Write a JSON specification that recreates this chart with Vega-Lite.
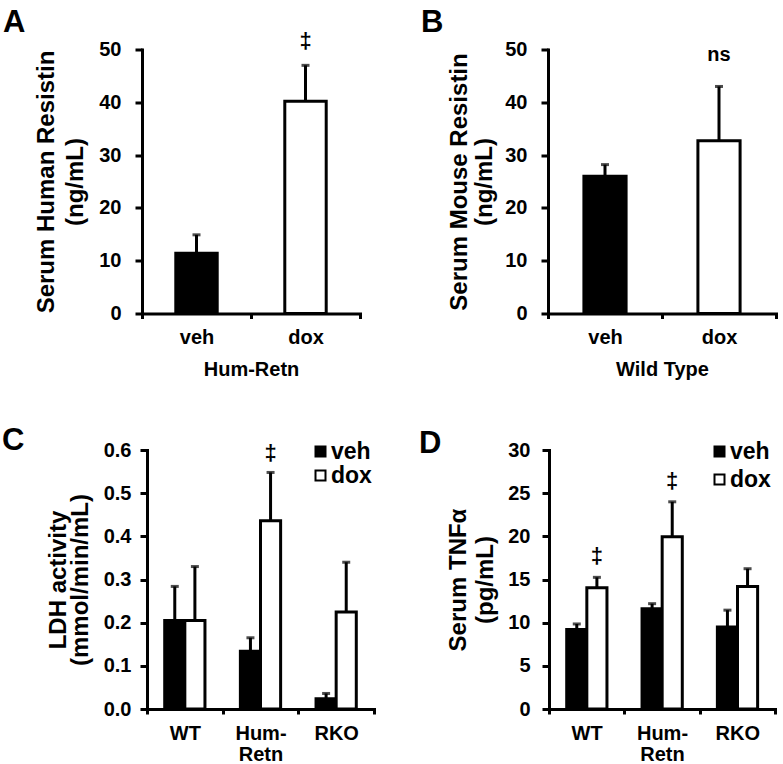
{
  "$schema": "https://vega.github.io/schema/vega-lite/v6.json",
  "padding": {"left": 2, "top": 6.5, "right": 5, "bottom": 0},
  "background": "white",
  "config": {
    "font": "Liberation Sans",
    "view": {"stroke": null},
    "axis": {
      "domainColor": "black", "domainWidth": 3, "domainCap": "square",
      "tickColor": "black", "tickWidth": 3,
      "labelColor": "black", "labelFontWeight": "bold", "labelFontSize": 20,
      "titleColor": "black", "titleFontWeight": "bold", "titleFontSize": 20,
      "grid": false
    },
    "axisX": {"tickSize": 5, "labelAngle": 0, "labelPadding": 9, "titlePadding": 12, "tickBand": "extent"},
    "axisY": {"tickSize": 7, "titleFontSize": 24, "labelFlush": false},
    "legend": {
      "symbolType": "square", "symbolSize": 100, "symbolStrokeColor": "black", "symbolStrokeWidth": 2,
      "labelFontSize": 23, "labelFontWeight": "bold", "labelColor": "black", "labelOffset": -1,
      "padding": 0, "orient": "none"
    }
  },
  "spacing": 45.5,
  "resolve": {"scale": {"fill": "independent"}, "legend": {"fill": "independent"}},
  "vconcat": [
    {
      "bounds": "flush",
      "spacing": 188,
      "resolve": {"scale": {"fill": "independent"}, "legend": {"fill": "independent"}},
      "hconcat": [
        {
          "width": 218, "height": 264,
          "title": {"text": "A", "anchor": "start", "frame": "group", "dx": -139, "dy": 33, "offset": 0, "baseline": "alphabetic", "fontSize": 31, "fontWeight": "bold", "color": "black"},
          "data": {"values": [
            {"treatment": "veh", "mean": 11.4, "upper": 14.9, "sig": ""},
            {"treatment": "dox", "mean": 40.2, "upper": 47.0, "sig": "‡"}
          ]},
          "encoding": {"x": {"field": "treatment", "type": "nominal", "sort": ["veh", "dox"], "scale": {"paddingInner": 0, "paddingOuter": 0}, "axis": {"title": "Hum-Retn"}}},
          "layer": [
            {"mark": {"type": "bar", "stroke": "black", "strokeWidth": 3, "width": {"band": 0.38}},
             "encoding": {
               "y": {"field": "mean", "type": "quantitative", "scale": {"domain": [0, 50]}, "axis": {"values": [0, 10, 20, 30, 40, 50], "title": ["Serum Human Resistin", "(ng/mL)"], "labelPadding": 14, "titlePadding": 11, "titleLineHeight": 29}},
               "fill": {"field": "treatment", "type": "nominal", "scale": {"domain": ["veh", "dox"], "range": ["black", "white"]}, "legend": null}
             }},
            {"mark": {"type": "rule", "strokeWidth": 3, "color": "black"}, "encoding": {"y": {"field": "mean", "type": "quantitative"}, "y2": {"field": "upper"}}},
            {"mark": {"type": "tick", "thickness": 3, "size": 8, "color": "black", "orient": "horizontal"}, "encoding": {"y": {"field": "upper", "type": "quantitative"}}},
            {"mark": {"type": "text", "fontSize": 22, "fontWeight": "bold", "dy": -24, "baseline": "middle", "color": "black"}, "encoding": {"y": {"field": "upper", "type": "quantitative"}, "text": {"field": "sig"}}}
          ]
        },
        {
          "width": 228, "height": 264,
          "title": {"text": "B", "anchor": "start", "frame": "group", "dx": -127, "dy": 23, "offset": 0, "baseline": "alphabetic", "fontSize": 31, "fontWeight": "bold", "color": "black"},
          "data": {"values": [
            {"treatment": "veh", "mean": 26.0, "upper": 28.2, "sig": ""},
            {"treatment": "dox", "mean": 32.7, "upper": 43.0, "sig": "ns"}
          ]},
          "encoding": {"x": {"field": "treatment", "type": "nominal", "sort": ["veh", "dox"], "scale": {"paddingInner": 0, "paddingOuter": 0}, "axis": {"title": "Wild Type"}}},
          "layer": [
            {"mark": {"type": "bar", "stroke": "black", "strokeWidth": 3, "width": {"band": 0.37}},
             "encoding": {
               "y": {"field": "mean", "type": "quantitative", "scale": {"domain": [0, 50]}, "axis": {"values": [0, 10, 20, 30, 40, 50], "title": ["Serum Mouse Resistin", "(ng/mL)"], "labelPadding": 14, "titlePadding": 8, "titleLineHeight": 25}},
               "fill": {"field": "treatment", "type": "nominal", "scale": {"domain": ["veh", "dox"], "range": ["black", "white"]}, "legend": null}
             }},
            {"mark": {"type": "rule", "strokeWidth": 3, "color": "black"}, "encoding": {"y": {"field": "mean", "type": "quantitative"}, "y2": {"field": "upper"}}},
            {"mark": {"type": "tick", "thickness": 3, "size": 8, "color": "black", "orient": "horizontal"}, "encoding": {"y": {"field": "upper", "type": "quantitative"}}},
            {"mark": {"type": "text", "fontSize": 20, "fontWeight": "bold", "dy": -31, "baseline": "middle", "color": "black"}, "encoding": {"y": {"field": "upper", "type": "quantitative"}, "text": {"field": "sig"}}}
          ]
        }
      ]
    },
    {
      "bounds": "flush",
      "spacing": 4,
      "resolve": {"scale": {"fill": "independent"}, "legend": {"fill": "independent"}},
      "hconcat": [
        {"width": 1, "height": 10, "data": {"values": []}, "mark": {"type": "point", "opacity": 0}},
        {
          "bounds": "flush",
          "spacing": 175,
          "resolve": {"scale": {"fill": "independent"}, "legend": {"fill": "independent"}},
          "hconcat": [
            {
              "width": 227, "height": 259,
              "title": {"text": "C", "anchor": "start", "frame": "group", "dx": -145, "dy": 41, "offset": 0, "baseline": "alphabetic", "fontSize": 31, "fontWeight": "bold", "color": "black"},
              "data": {"values": [
                {"genotype": "WT", "treatment": "veh", "mean": 0.205, "upper": 0.284, "sig": ""},
                {"genotype": "WT", "treatment": "dox", "mean": 0.205, "upper": 0.330, "sig": ""},
                {"genotype": "Hum-Retn", "treatment": "veh", "mean": 0.134, "upper": 0.165, "sig": ""},
                {"genotype": "Hum-Retn", "treatment": "dox", "mean": 0.436, "upper": 0.548, "sig": "‡"},
                {"genotype": "RKO", "treatment": "veh", "mean": 0.024, "upper": 0.036, "sig": ""},
                {"genotype": "RKO", "treatment": "dox", "mean": 0.225, "upper": 0.340, "sig": ""}
              ]},
              "encoding": {
                "x": {"field": "genotype", "type": "nominal", "sort": ["WT", "Hum-Retn", "RKO"], "scale": {"paddingInner": 0, "paddingOuter": 0}, "axis": {"title": null, "labelExpr": "datum.label == 'Hum-Retn' ? ['Hum-', 'Retn'] : datum.label", "labelLineHeight": 21}},
                "xOffset": {"field": "treatment", "type": "nominal", "sort": ["veh", "dox"], "scale": {"paddingInner": 0, "paddingOuter": 0.88}}
              },
              "layer": [
                {"mark": {"type": "bar", "stroke": "black", "strokeWidth": 3},
                 "encoding": {
                   "y": {"field": "mean", "type": "quantitative", "scale": {"domain": [0, 0.6]}, "axis": {"values": [0, 0.1, 0.2, 0.3, 0.4, 0.5, 0.6], "format": ".1f", "title": ["LDH activity", "(mmol/min/mL)"], "labelPadding": 9, "titlePadding": 11, "titleLineHeight": 22}},
                   "fill": {"field": "treatment", "type": "nominal", "scale": {"domain": ["veh", "dox"], "range": ["black", "white"]}, "legend": {"title": null, "legendX": 162, "legendY": -10, "rowPadding": 0}}
                 }},
                {"mark": {"type": "rule", "strokeWidth": 3, "color": "black"}, "encoding": {"y": {"field": "mean", "type": "quantitative"}, "y2": {"field": "upper"}}},
                {"mark": {"type": "tick", "thickness": 3, "size": 8, "color": "black", "orient": "horizontal"}, "encoding": {"y": {"field": "upper", "type": "quantitative"}}},
                {"mark": {"type": "text", "fontSize": 22, "fontWeight": "bold", "dy": -19, "baseline": "middle", "color": "black"}, "encoding": {"y": {"field": "upper", "type": "quantitative"}, "text": {"field": "sig"}}}
              ]
            },
            {
              "width": 226, "height": 259,
              "title": {"text": "D", "anchor": "start", "frame": "group", "dx": -130, "dy": 44, "offset": 0, "baseline": "alphabetic", "fontSize": 31, "fontWeight": "bold", "color": "black"},
              "data": {"values": [
                {"genotype": "WT", "treatment": "veh", "mean": 9.2, "upper": 9.85, "sig": ""},
                {"genotype": "WT", "treatment": "dox", "mean": 14.05, "upper": 15.25, "sig": "‡"},
                {"genotype": "Hum-Retn", "treatment": "veh", "mean": 11.6, "upper": 12.2, "sig": ""},
                {"genotype": "Hum-Retn", "treatment": "dox", "mean": 19.95, "upper": 24.0, "sig": "‡"},
                {"genotype": "RKO", "treatment": "veh", "mean": 9.5, "upper": 11.45, "sig": ""},
                {"genotype": "RKO", "treatment": "dox", "mean": 14.2, "upper": 16.25, "sig": ""}
              ]},
              "encoding": {
                "x": {"field": "genotype", "type": "nominal", "sort": ["WT", "Hum-Retn", "RKO"], "scale": {"paddingInner": 0, "paddingOuter": 0}, "axis": {"title": null, "labelExpr": "datum.label == 'Hum-Retn' ? ['Hum-', 'Retn'] : datum.label", "labelLineHeight": 21}},
                "xOffset": {"field": "treatment", "type": "nominal", "sort": ["veh", "dox"], "scale": {"paddingInner": 0, "paddingOuter": 0.9}}
              },
              "layer": [
                {"mark": {"type": "bar", "stroke": "black", "strokeWidth": 3},
                 "encoding": {
                   "y": {"field": "mean", "type": "quantitative", "scale": {"domain": [0, 30]}, "axis": {"values": [0, 5, 10, 15, 20, 25, 30], "title": ["Serum TNFα", "(pg/mL)"], "labelPadding": 12, "titlePadding": 10, "titleLineHeight": 27}},
                   "fill": {"field": "treatment", "type": "nominal", "scale": {"domain": ["veh", "dox"], "range": ["black", "white"]}, "legend": {"title": null, "legendX": 159, "legendY": -10, "rowPadding": 4}}
                 }},
                {"mark": {"type": "rule", "strokeWidth": 3, "color": "black"}, "encoding": {"y": {"field": "mean", "type": "quantitative"}, "y2": {"field": "upper"}}},
                {"mark": {"type": "tick", "thickness": 3, "size": 8, "color": "black", "orient": "horizontal"}, "encoding": {"y": {"field": "upper", "type": "quantitative"}}},
                {"mark": {"type": "text", "fontSize": 22, "fontWeight": "bold", "dy": -21, "baseline": "middle", "color": "black"}, "encoding": {"y": {"field": "upper", "type": "quantitative"}, "text": {"field": "sig"}}}
              ]
            }
          ]
        }
      ]
    }
  ]
}
